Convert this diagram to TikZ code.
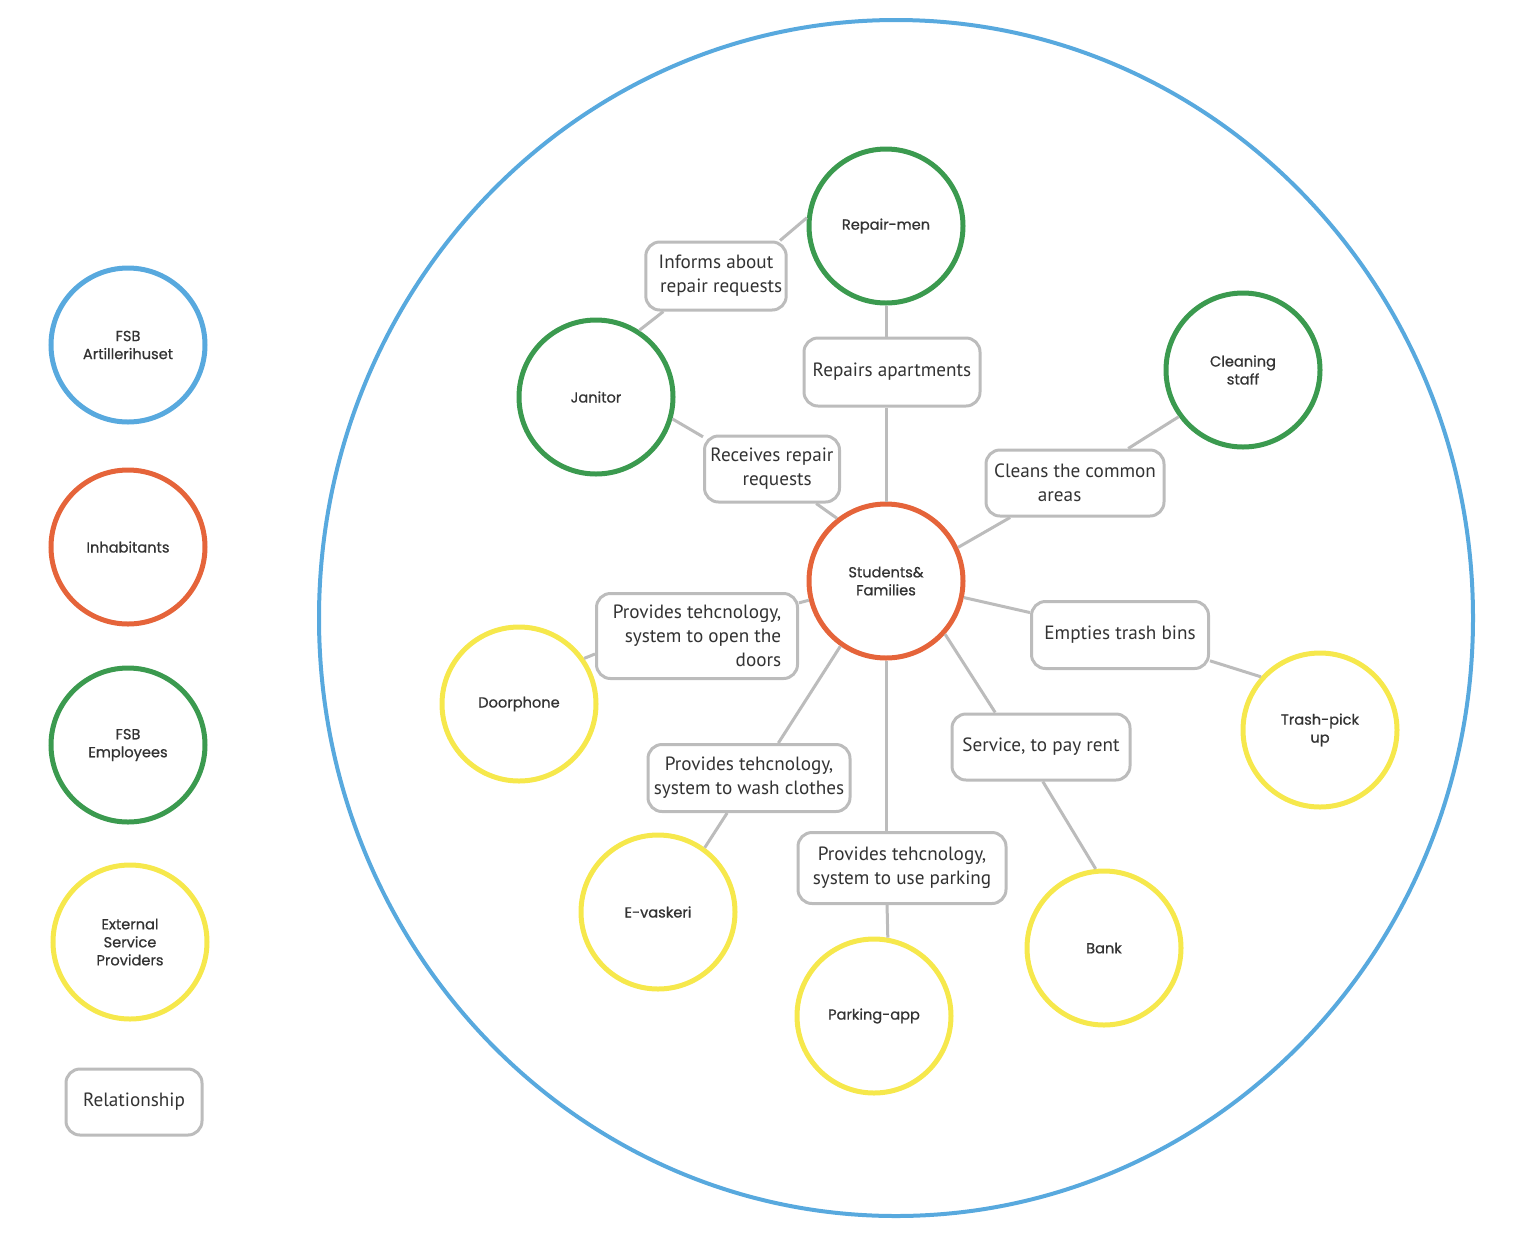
\documentclass[tikz,border=0pt]{standalone}
\usepackage{fontspec}
\setmainfont{PT Sans}
\newfontfamily\roundfont[FakeBold=0.7]{Poppins}
\definecolor{ringblue}{HTML}{58A9DE}
\definecolor{ringorange}{HTML}{E5643A}
\definecolor{ringgreen}{HTML}{3B9A4F}
\definecolor{ringyellow}{HTML}{F6E84C}
\definecolor{relgray}{HTML}{BCBCBC}
\definecolor{inkgray}{HTML}{333333}

\begin{document}
\begin{tikzpicture}[
        x=0.5pt, y=-0.5pt,
        actor/.style={circle, line width=2.5pt, minimum size=77pt, inner sep=0pt,
            align=center, text=inkgray, font=\roundfont\fontsize{7.3}{9}\selectfont},
        blueactor/.style={actor, draw=ringblue},
        orangeactor/.style={actor, draw=ringorange},
        greenactor/.style={actor, draw=ringgreen},
        yellowactor/.style={actor, draw=ringyellow},
        rel/.style={draw=relgray, line width=1.5pt, rounded corners=7pt, fill=white,
            align=center, text=inkgray, inner sep=2pt, font=\fontsize{9.6}{12}\selectfont},
        link/.style={draw=relgray, line width=1.5pt}
    ]
    \useasboundingbox (0,0) rectangle (1532,1238);
    \draw[ringblue, line width=2pt] (896,618) ellipse [x radius=577, y radius=598];

    % legend
    \node[blueactor] (lgfsb) at (128,345) {FSB\\Artillerihuset};
    \node[orangeactor] (lginhab) at (128,547) {Inhabitants};
    \node[greenactor] (lgempl) at (128,745) {FSB\\Employees};
    \node[yellowactor] (lgext) at (130,942) {External\\Service\\Providers};
    \node[rel, minimum width=68pt, minimum height=33pt] (lgrel) at (134,1102) {Relationship};

    % actors
    \node[orangeactor] (students) at (886,581) {Students\&\\Families};
    \node[greenactor] (repairmen) at (886,226) {Repair-men};
    \node[greenactor] (janitor) at (596,397) {Janitor};
    \node[greenactor] (cleaning) at (1243,370) {Cleaning\\staff};
    \node[yellowactor] (doorphone) at (519,704) {Doorphone};
    \node[yellowactor] (trash) at (1320,730) {Trash-pick\\up};
    \node[yellowactor] (evaskeri) at (658,912) {E-vaskeri};
    \node[yellowactor] (parkapp) at (874,1016) {Parking-app};
    \node[yellowactor] (bank) at (1104,948) {Bank};

    % relationships
    \node[rel, minimum width=68pt, minimum height=34pt] (informs) at (716,276) {Informs about\\ \ \ repair requests};
    \node[rel, minimum width=88pt, minimum height=34pt] (repairs) at (892,372) {Repairs apartments};
    \node[rel, minimum width=67.5pt, minimum height=33pt] (receives) at (772,469) {Receives repair\\ \ \ requests};
    \node[rel, minimum width=89pt, minimum height=33pt] (cleans) at (1075,483) {Cleans the common\\areas\ \ \ \ \ \ \ };
    \node[rel, minimum width=100.5pt, minimum height=42.5pt, align=right] (doors) at (697,636) {Provides tehcnology,\\system to open the\\doors};
    \node[rel, minimum width=88.5pt, minimum height=33.5pt] (empties) at (1120,635) {Empties trash bins};
    \node[rel, minimum width=89pt, minimum height=33pt] (rent) at (1041,747) {Service, to pay rent};
    \node[rel, minimum width=101pt, minimum height=33.5pt] (wash) at (749,778) {Provides tehcnology,\\system to wash clothes};
    \node[rel, minimum width=104pt, minimum height=35.5pt] (parking) at (902,868) {Provides tehcnology,\\system to use parking};

    \draw[link] (repairmen.174) -- (informs.29);
    \draw[link] (informs.214) -- (janitor.57);
    \draw[link] (janitor.-16) -- (receives.155);
    \draw[link] (receives.-38) -- (students.128);
    \draw[link] (repairmen.south) -- (repairmen.south |- repairs.north);
    \draw[link] (students.north) -- (students.north |- repairs.south);
    \draw[link] (students.25) -- (cleans.208);
    \draw[link] (cleans.33) -- (cleaning.216);
    \draw[link] (students.-12) -- (empties.166);
    \draw[link] (empties.-16) -- (trash.138);
    \draw[link] (students.-42) -- (rent.143);
    \draw[link] (rent.-87) -- (bank.96);
    \draw[link] (students.194) -- (doors.18);
    \draw[link] (doors.190) -- (doorphone.35);
    \draw[link] (students.235) -- (wash.50);
    \draw[link] (wash.238) -- (evaskeri.54);
    \draw[link] (students.south) -- (students.south |- parking.north);
    \draw[link] (parking.248) -- (parkapp.80);
\end{tikzpicture}
\end{document}
